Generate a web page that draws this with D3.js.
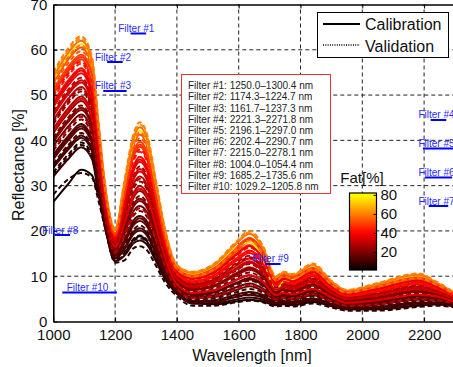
<!DOCTYPE html>
<html><head><meta charset="utf-8">
<script src="https://cdn.jsdelivr.net/npm/d3@7"></script>
<style>body{margin:0;background:#fff}svg{display:block}text{font-family:"Liberation Sans",Arial,sans-serif}</style>
</head><body><svg id="c" width="453" height="367"></svg>
<script>
// ---------------- data ----------------
const wavelengths = [1000,1050,1090,1125,1145,1170,1200,1230,1260,1280,1305,1330,1360,1400,1450,1520,1590,1635,1680,1720,1745,1775,1840,1900,1950,2050,2180,2240,2300];
const fatPercent = [2,6,9,4,12,10,15,13,18,16,21,19,24,27,22,30,33,28,37,40,44,47,50,54,52,76,57,62,60,
                    8,11,14,30,20,35,26,32,36,42,48,58];
const sampleSet = ["C","V","C","V","C","V","C","C","V","C","C","V","C","C","V","C","C","V","C","C","V","C","C","V","C","C","C","V","V",
                   "V","C","C","V","C","C","V","C","C","V","C","V"];
const reflectance = [
[26.4,30.5,33.5,32.3,28.0,23.5,16.5,15.5,18.0,18.8,17.5,14.0,10.0,6.2,4.2,3.8,4.4,4.8,4.4,3.6,3.8,3.6,4.3,3.4,2.7,2.7,3.5,3.8,3.4],
[28.0,31.5,32.8,31.8,27.0,20.0,13.0,13.5,16.2,16.6,15.6,12.6,8.8,5.6,3.5,3.5,4.2,4.6,4.2,3.3,3.5,3.3,4.0,3.1,2.4,2.4,3.2,3.5,3.1],
[32.0,36.0,38.5,35.9,28.7,19.9,13.3,14.5,17.3,17.9,16.8,13.6,9.5,6.1,3.9,4.0,4.8,5.3,4.8,3.7,3.9,3.7,4.5,3.4,2.7,2.7,3.6,3.8,3.3],
[32.9,37.0,39.5,36.8,29.4,20.3,13.6,15.2,18.3,19.0,17.8,14.3,10.0,6.3,4.2,4.3,5.4,5.9,5.3,3.9,4.2,4.0,4.8,3.7,2.9,3.0,3.9,4.0,3.5],
[33.9,38.1,40.6,37.6,30.0,20.6,13.9,15.9,19.3,20.1,18.8,15.1,10.4,6.6,4.5,4.7,5.9,6.5,5.8,4.2,4.5,4.3,5.1,3.9,3.0,3.2,4.2,4.2,3.6],
[34.8,39.1,41.6,38.5,30.7,21.0,14.2,16.6,20.3,21.2,19.8,15.9,10.9,6.9,4.8,5.1,6.4,7.2,6.3,4.5,4.8,4.5,5.5,4.1,3.2,3.5,4.5,4.4,3.7],
[35.8,40.1,42.6,39.4,31.4,21.4,14.5,17.2,21.3,22.2,20.8,16.6,11.4,7.1,5.1,5.4,6.9,7.8,6.7,4.7,5.1,4.8,5.8,4.4,3.4,3.7,4.8,4.6,3.8],
[36.8,41.1,43.6,40.3,32.1,21.8,14.8,17.9,22.4,23.3,21.9,17.4,11.9,7.4,5.4,5.8,7.5,8.4,7.2,5.0,5.4,5.1,6.2,4.6,3.6,3.9,5.1,4.9,3.9],
[37.7,42.1,44.6,41.2,32.8,22.2,15.1,18.6,23.4,24.4,22.9,18.2,12.4,7.7,5.7,6.2,8.0,9.0,7.7,5.3,5.7,5.4,6.5,4.8,3.8,4.2,5.3,5.1,4.1],
[38.7,43.2,45.7,42.0,33.4,22.5,15.4,19.3,24.4,25.5,23.9,18.9,12.8,7.9,6.0,6.5,8.5,9.6,8.2,5.5,6.0,5.7,6.9,5.1,3.9,4.4,5.6,5.3,4.2],
[39.6,44.2,46.7,42.9,34.1,22.9,15.7,20.0,25.4,26.6,24.9,19.7,13.3,8.2,6.3,6.9,9.1,10.2,8.7,5.8,6.3,6.0,7.2,5.3,4.1,4.7,5.9,5.5,4.3],
[40.6,45.2,47.7,43.8,34.8,23.3,16.0,20.7,26.4,27.7,25.9,20.5,13.8,8.5,6.6,7.3,9.6,10.8,9.2,6.0,6.6,6.2,7.6,5.5,4.3,4.9,6.2,5.7,4.4],
[41.6,46.2,48.7,44.7,35.5,23.7,16.3,21.4,27.4,28.8,26.9,21.3,14.3,8.8,6.9,7.7,10.1,11.4,9.7,6.3,6.9,6.5,7.9,5.8,4.5,5.1,6.5,5.9,4.6],
[42.5,47.2,49.7,45.6,36.2,24.1,16.6,22.1,28.4,29.9,27.9,22.0,14.8,9.0,7.2,8.0,10.6,12.0,10.2,6.6,7.2,6.8,8.3,6.0,4.7,5.4,6.8,6.1,4.7],
[43.5,48.3,50.8,46.4,36.8,24.4,16.9,22.7,29.4,30.9,28.9,22.8,15.2,9.3,7.5,8.4,11.2,12.7,10.6,6.8,7.5,7.1,8.6,6.2,4.8,5.6,7.1,6.3,4.8],
[44.4,49.3,51.8,47.3,37.5,24.8,17.2,23.4,30.4,32.0,29.9,23.6,15.7,9.6,7.7,8.8,11.7,13.3,11.1,7.1,7.7,7.4,9.0,6.5,5.0,5.9,7.4,6.5,4.9],
[45.4,50.3,52.8,48.2,38.2,25.2,17.5,24.1,31.4,33.1,30.9,24.3,16.2,9.8,8.0,9.1,12.2,13.9,11.6,7.4,8.0,7.7,9.3,6.7,5.2,6.1,7.7,6.7,5.1],
[46.4,51.3,53.8,49.1,38.9,25.6,17.8,24.8,32.4,34.2,31.9,25.1,16.7,10.1,8.3,9.5,12.8,14.5,12.1,7.6,8.3,7.9,9.7,6.9,5.4,6.3,8.0,6.9,5.2],
[47.3,52.3,54.8,50.0,39.6,26.0,18.1,25.5,33.4,35.3,32.9,25.9,17.2,10.4,8.6,9.9,13.3,15.1,12.6,7.9,8.6,8.2,10.0,7.1,5.6,6.6,8.3,7.1,5.3],
[48.3,53.4,55.9,50.8,40.2,26.3,18.4,26.2,34.4,36.4,33.9,26.6,17.6,10.6,8.9,10.2,13.8,15.7,13.1,8.2,8.9,8.5,10.4,7.4,5.7,6.8,8.6,7.3,5.4],
[49.2,54.4,56.9,51.7,40.9,26.7,18.7,26.9,35.5,37.5,35.0,27.4,18.1,10.9,9.2,10.6,14.3,16.3,13.6,8.4,9.2,8.8,10.7,7.6,5.9,7.1,8.9,7.6,5.6],
[50.2,55.4,57.9,52.6,41.6,27.1,19.0,27.6,36.5,38.6,36.0,28.2,18.6,11.2,9.5,11.0,14.9,16.9,14.1,8.7,9.5,9.1,11.1,7.8,6.1,7.3,9.1,7.8,5.7],
[51.2,56.4,58.9,55.0,42.3,27.5,19.3,28.3,37.5,39.7,37.0,28.9,19.1,11.4,9.8,11.3,15.4,17.6,14.6,8.9,9.8,9.4,11.4,8.1,6.3,7.5,9.4,8.0,5.8],
[51.9,57.2,59.7,55.6,42.8,27.8,19.5,28.8,38.2,40.5,37.7,29.5,19.4,11.6,10.0,11.6,15.8,18.0,14.9,9.1,10.0,9.6,11.7,8.3,6.4,7.7,9.7,8.1,5.9],
[52.6,58.0,60.5,56.3,43.3,28.1,19.8,29.3,39.0,41.3,38.5,30.1,19.8,11.8,10.3,11.9,16.2,18.5,15.3,9.3,10.3,9.8,11.9,8.4,6.6,7.9,9.9,8.3,6.0],
[53.3,58.7,61.2,57.0,43.8,28.3,20.0,29.8,39.7,42.1,39.2,30.7,20.2,12.0,10.5,12.2,16.1,17.6,13.5,7.0,8.8,9.2,12.0,8.6,6.7,8.1,10.1,8.4,6.1],
[54.0,59.5,62.0,57.6,44.3,28.6,20.2,30.3,40.5,42.9,40.0,31.2,20.5,12.2,10.7,12.4,17.0,19.4,16.0,9.7,10.7,10.2,12.5,8.8,6.8,8.3,10.3,8.6,6.2],
[54.5,60.0,62.5,58.1,44.7,28.8,20.4,30.7,41.0,43.5,40.5,31.6,20.8,12.4,10.9,12.6,17.2,19.7,16.3,9.9,10.9,10.4,12.6,8.9,6.9,8.4,10.5,8.7,6.2],
[55.0,60.5,63.0,58.5,45.0,29.0,20.5,31.0,41.5,44.0,41.0,32.0,21.0,12.5,11.0,12.8,17.5,20.0,16.5,10.0,11.0,10.5,12.8,9.0,7.0,8.5,10.6,8.8,6.3],
[32.4,36.5,39.0,36.3,29.0,20.1,13.5,14.8,17.8,18.4,17.3,14.0,9.7,6.5,4.3,4.5,5.6,6.2,5.5,4.1,4.3,4.1,5.0,3.8,3.0,3.1,4.0,4.1,3.5],
[34.4,38.6,41.1,38.1,30.4,20.8,14.1,16.2,19.8,20.6,19.3,15.5,10.7,6.3,4.2,4.3,5.4,5.9,5.3,3.9,4.2,4.0,4.8,3.7,2.9,3.0,3.9,4.0,3.5],
[36.3,40.6,43.1,39.8,31.7,21.6,14.7,17.6,21.8,22.8,21.3,17.0,11.6,7.8,5.8,6.4,8.3,9.3,8.0,5.4,5.8,5.5,6.7,4.9,3.9,4.3,5.5,5.2,4.1],
[38.2,42.7,45.2,41.6,33.1,22.4,15.3,19.0,23.9,25.0,23.4,18.6,12.6,7.3,5.2,5.6,7.2,8.1,7.0,4.9,5.2,5.0,6.0,4.5,3.5,3.8,4.9,4.7,3.9],
[40.1,44.7,47.2,43.4,34.5,23.1,15.9,20.3,25.9,27.1,25.4,20.1,13.6,8.9,7.0,7.8,10.4,11.7,9.9,6.4,7.0,6.7,8.1,5.9,4.6,5.3,6.7,6.0,4.6],
[42.0,46.7,49.2,45.1,35.8,23.9,16.5,21.7,27.9,29.3,27.4,21.6,14.5,8.2,6.3,6.9,9.1,10.2,8.7,5.8,6.3,6.0,7.2,5.3,4.1,4.7,5.9,5.5,4.3],
[44.0,48.8,51.3,46.9,37.2,24.6,17.1,23.1,29.9,31.5,29.4,23.2,15.5,10.0,8.2,9.3,12.5,14.2,11.9,7.5,8.2,7.8,9.5,6.8,5.3,6.2,7.8,6.8,5.1],
[45.9,50.8,53.3,48.6,38.5,25.4,17.7,24.5,31.9,33.7,31.4,24.7,16.4,9.4,7.6,8.6,11.4,13.0,10.9,7.0,7.6,7.2,8.8,6.3,4.9,5.7,7.2,6.4,4.9],
[47.8,52.9,55.4,50.4,39.9,26.2,18.3,25.8,33.9,35.8,33.4,26.2,17.4,11.0,9.4,10.8,14.6,16.6,13.8,8.5,9.4,8.9,10.9,7.7,6.0,7.2,9.0,7.7,5.6],
[49.7,54.9,57.4,52.2,41.3,26.9,18.9,27.2,36.0,38.0,35.5,27.8,18.4,10.5,8.8,10.0,13.5,15.4,12.8,8.0,8.8,8.4,10.2,7.3,5.7,6.7,8.4,7.2,5.4],
[50.7,55.9,58.4,54.5,41.9,27.3,19.2,27.9,37.0,39.1,36.5,28.5,18.8,11.7,10.1,11.7,15.9,18.2,15.0,9.2,10.1,9.7,11.8,8.3,6.5,7.8,9.7,8.2,5.9],
[53.1,58.5,61.0,56.7,43.6,28.2,19.9,29.6,39.5,41.8,39.0,30.5,20.0,11.6,10.0,11.5,15.7,17.9,14.8,9.1,10.0,9.5,11.6,8.2,6.4,7.7,9.6,8.1,5.9]
];
const xTicks = [1000,1200,1400,1600,1800,2000,2200];
const yTicks = [0,10,20,30,40,50,60,70];
const cbTicks = [20,40,60,80];
const filterNames = ["Filter #1","Filter #2","Filter #3","Filter #4","Filter #5","Filter #6","Filter #7","Filter #8","Filter #9","Filter #10"];
const filterStart = [1250.0,1174.3,1161.7,2221.3,2196.1,2202.4,2215.0,1004.0,1685.2,1029.2];
const filterEnd = [1300.4,1224.7,1237.3,2271.8,2297.0,2290.7,2278.1,1054.4,1735.6,1205.8];
const filterLevel = [63.6,57.3,50.9,44.5,38.2,31.8,25.5,19.1,12.7,6.4];
const legendLabels = ["Calibration","Validation"];

// ---------------- drawing ----------------
const svg = d3.select('#c');
const x = d3.scaleLinear().domain([1000,2300]).range([53.3,455]);
const y = d3.scaleLinear().domain([0,70]).range([321.5,4.5]);
const color = d3.scaleLinear().domain([0,40,80]).range(['#000000','#ff0000','#ffff00']).clamp(true);

svg.append('defs').append('clipPath').attr('id','plot')
  .append('rect').attr('x',x(1000)).attr('y',y(70)).attr('width',x(2300)-x(1000)).attr('height',y(0)-y(70));

// grid
const grid = svg.append('g').attr('stroke','#222').attr('stroke-width',1).attr('stroke-dasharray','4,3');
grid.selectAll('.gx').data(xTicks.slice(1)).join('line')
  .attr('x1',d=>x(d)).attr('x2',d=>x(d)).attr('y1',y(0)).attr('y2',y(70));
grid.selectAll('.gy').data(yTicks.slice(1,-1)).join('line')
  .attr('x1',x(1000)).attr('x2',x(2300)).attr('y1',d=>y(d)).attr('y2',d=>y(d));

// curves
const line = d3.line().x((d,i)=>x(wavelengths[i])).y(d=>y(d)).curve(d3.curveMonotoneX);
svg.append('g').attr('clip-path','url(#plot)').selectAll('path').data(reflectance).join('path')
  .attr('d',line).attr('fill','none')
  .attr('stroke',(d,i)=>color(fatPercent[i]))
  .attr('stroke-width',2)
  .attr('stroke-dasharray',(d,i)=>sampleSet[i]==='V'?'5,3':null);

// axes
const fs = 15;
const fmt = d3.format('d');
const axB = svg.append('g').attr('transform',`translate(0,${y(0)})`)
  .call(d3.axisBottom(x).tickValues(xTicks).tickFormat(fmt).tickSizeInner(-4).tickSizeOuter(0).tickPadding(8));
const axT = svg.append('g').attr('transform',`translate(0,${y(70)})`)
  .call(d3.axisTop(x).tickValues(xTicks).tickSizeInner(-4).tickSizeOuter(0).tickFormat(''));
const axL = svg.append('g').attr('transform',`translate(${x(1000)},0)`)
  .call(d3.axisLeft(y).tickValues(yTicks).tickFormat(fmt).tickSizeInner(-4).tickSizeOuter(0).tickPadding(6));
[axB,axT,axL].forEach(a=>{
  a.select('.domain').attr('stroke','#000').attr('stroke-width',1.6);
  a.selectAll('.tick line').attr('stroke','#000');
  a.selectAll('text').attr('font-size',fs).attr('fill','#111').attr('font-family','"Liberation Sans",Arial,sans-serif');
});

svg.append('text').attr('x',252).attr('y',355).attr('text-anchor','middle').attr('dominant-baseline','central')
  .attr('font-size',16).attr('fill','#111').text('Wavelength [nm]');
svg.append('text').attr('transform','translate(18,165) rotate(-90)').attr('text-anchor','middle').attr('dominant-baseline','central')
  .attr('font-size',16).attr('fill','#111').text('Reflectance [%]');

// filter markers
const fg = svg.append('g');
filterNames.forEach((n,i)=>{
  fg.append('line').attr('x1',x(filterStart[i])).attr('x2',x(filterEnd[i]))
    .attr('y1',y(filterLevel[i])).attr('y2',y(filterLevel[i]))
    .attr('stroke','#0000ff').attr('stroke-width',2);
  fg.append('text').attr('x',x((filterStart[i]+filterEnd[i])/2)-2).attr('y',y(filterLevel[i])-1.5)
    .attr('text-anchor','middle').attr('font-size',10).attr('fill','#2a2aff').text(n);
});

// filter info box
const ib = svg.append('g');
ib.append('rect').attr('x',181.5).attr('y',74.5).attr('width',149).attr('height',119)
  .attr('fill','#fff').attr('stroke','#ee3030').attr('stroke-width',1);
filterNames.forEach((n,i)=>{
  ib.append('text').attr('x',188).attr('y',85.7+i*11.2).attr('dominant-baseline','central')
    .attr('font-size',10).attr('fill','#222')
    .text(`${n}: ${filterStart[i].toFixed(1)}\u2013${filterEnd[i].toFixed(1)} nm`);
});

// legend
const lg = svg.append('g');
lg.append('rect').attr('x',317.5).attr('y',12.5).attr('width',131).attr('height',45)
  .attr('fill','#fff').attr('stroke','#000').attr('stroke-width',1);
lg.append('line').attr('x1',323).attr('x2',360).attr('y1',24).attr('y2',24).attr('stroke','#000').attr('stroke-width',2);
lg.append('line').attr('x1',323).attr('x2',360).attr('y1',45).attr('y2',45).attr('stroke','#000').attr('stroke-width',1.3).attr('stroke-dasharray','1,1.3');
legendLabels.forEach((t,i)=>{
  lg.append('text').attr('x',365).attr('y',24+i*22).attr('dominant-baseline','central')
    .attr('font-size',16).attr('fill','#111').text(t);
});

// colorbar
const cb = d3.scaleLinear().domain([1,82]).range([270,193]);
const grad = svg.select('defs').append('linearGradient').attr('id','cbg')
  .attr('x1',0).attr('x2',0).attr('y1',1).attr('y2',0);
d3.range(0,1.0001,0.05).forEach(f=>{
  grad.append('stop').attr('offset',f).attr('stop-color',color(1+f*81));
});
svg.append('rect').attr('x',349.5).attr('y',193).attr('width',27).attr('height',77)
  .attr('fill','url(#cbg)').attr('stroke','#000').attr('stroke-width',1.2);
const axC = svg.append('g').attr('transform','translate(376.5,0)')
  .call(d3.axisRight(cb).tickValues(cbTicks).tickSizeInner(-3).tickSizeOuter(0).tickPadding(4));
axC.select('.domain').remove();
axC.selectAll('.tick line').attr('stroke','#000');
axC.selectAll('text').attr('font-size',fs).attr('fill','#111');
svg.append('text').attr('x',362).attr('y',177).attr('text-anchor','middle').attr('dominant-baseline','central')
  .attr('font-size',15).attr('fill','#111').text('Fat[%]');
</script></body></html>
